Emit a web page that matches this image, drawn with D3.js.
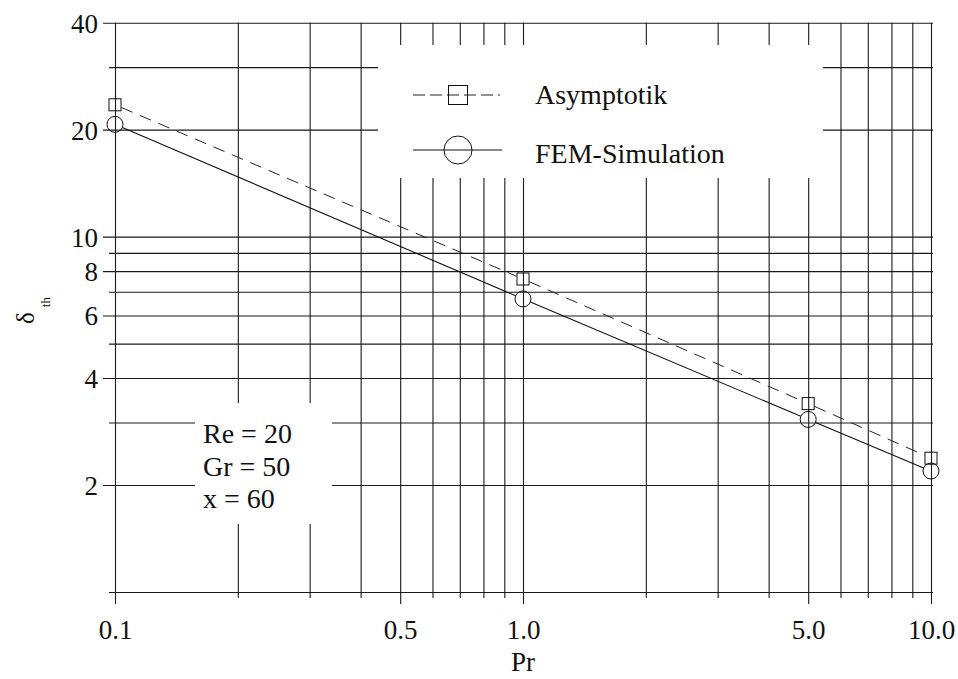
<!DOCTYPE html>
<html>
<head>
<meta charset="utf-8">
<script src="https://cdn.jsdelivr.net/npm/d3@7"></script>
<style>
  html, body { margin: 0; padding: 0; background: #fff; }
  svg { display: block; }
  text { font-family: "Liberation Serif", "Times New Roman", serif; fill: #111; }
</style>
</head>
<body>
<svg id="chart" width="958" height="679"></svg>
<script>
// ---- data ----
const prValues = [0.1, 1.0, 5.0, 10.0];
const asymptotik = [23.5, 7.6, 3.39, 2.38];
const femSimulation = [20.7, 6.68, 3.06, 2.19];
const seriesNames = ["Asymptotik", "FEM-Simulation"];

const xMajorTicks = [0.1, 0.5, 1, 5, 10];
const xMajorLabels = ["0.1", "0.5", "1.0", "5.0", "10.0"];
const xMinorTicks = [0.2, 0.3, 0.4, 0.6, 0.7, 0.8, 0.9, 2, 3, 4, 6, 7, 8, 9];
const yMajorTicks = [2, 4, 6, 8, 10, 20, 40];
const yMajorLabels = ["2", "4", "6", "8", "10", "20", "40"];
const yMinorTicks = [1, 3, 5, 7, 9, 30];
const annotationLines = ["Re = 20", "Gr = 50", "x = 60"];

(function () {
// ---- layout ----
const svg = d3.select("#chart");
const pL = 115, pR = 931, pT = 22.7, pB = 592;
const x = d3.scaleLog().domain([0.1, 10]).range([pL, pR]);
const y = d3.scaleLog().domain([1, 40]).range([pB, pT]);
const gridColor = "#1a1a1a";

// ---- grid via axes ----
function styleGrid(g) {
  g.select(".domain").remove();
  g.selectAll(".tick line").attr("stroke", gridColor).attr("stroke-width", 1.1);
}
// minor vertical
svg.append("g").attr("transform", `translate(0,${pB + 6})`)
  .call(d3.axisBottom(x).tickValues(xMinorTicks).tickSize(-(pB + 6 - pT)).tickFormat(""))
  .call(styleGrid);
// major vertical with labels
svg.append("g").attr("transform", `translate(0,${pB + 12})`)
  .call(d3.axisBottom(x).tickValues(xMajorTicks).tickSize(-(pB + 12 - pT))
    .tickFormat((d, i) => xMajorLabels[i]))
  .call(styleGrid)
  .call(g => g.selectAll(".tick text")
    .attr("y", 639 - (pB + 12)).attr("dy", 0)
    .attr("font-size", 27).attr("font-family", "Liberation Serif").attr("fill", "#111"));
// minor horizontal
svg.append("g").attr("transform", `translate(${pL - 6},0)`)
  .call(d3.axisLeft(y).tickValues(yMinorTicks).tickSize(-(pR - pL + 8)).tickFormat(""))
  .call(styleGrid);
// major horizontal with labels
svg.append("g").attr("transform", `translate(${pL - 12},0)`)
  .call(d3.axisLeft(y).tickValues(yMajorTicks).tickSize(-(pR - pL + 14))
    .tickFormat((d, i) => yMajorLabels[i]))
  .call(styleGrid)
  .call(g => g.selectAll(".tick text")
    .attr("x", -5).attr("dy", "0.35em")
    .attr("font-size", 27).attr("font-family", "Liberation Serif").attr("fill", "#111"));

// ---- boxes that interrupt the grid ----
svg.append("rect").attr("x", 378).attr("y", 45).attr("width", 823 - 378).attr("height", 178 - 45).attr("fill", "#fff");
svg.append("rect").attr("x", 195).attr("y", 403).attr("width", 332 - 195).attr("height", 524 - 403).attr("fill", "#fff");

// ---- data lines (trimmed at marker edges) ----
function trimmedSegments(vals, r) {
  const pts = prValues.map((p, i) => [x(p), y(vals[i])]);
  const segs = [];
  for (let i = 0; i < pts.length - 1; i++) {
    const [x1, y1] = pts[i], [x2, y2] = pts[i + 1];
    const len = Math.hypot(x2 - x1, y2 - y1);
    const ux = (x2 - x1) / len, uy = (y2 - y1) / len;
    segs.push([x1 + ux * r, y1 + uy * r, x2 - ux * r, y2 - uy * r]);
  }
  return segs;
}
const lineG = svg.append("g");
lineG.append("g").selectAll("line").data(trimmedSegments(asymptotik, 7)).join("line")
  .attr("x1", d => d[0]).attr("y1", d => d[1]).attr("x2", d => d[2]).attr("y2", d => d[3])
  .attr("stroke", "#222").attr("stroke-width", 1).attr("stroke-dasharray", "12,8");
lineG.append("g").selectAll("line").data(trimmedSegments(femSimulation, 8)).join("line")
  .attr("x1", d => d[0]).attr("y1", d => d[1]).attr("x2", d => d[2]).attr("y2", d => d[3])
  .attr("stroke", "#111").attr("stroke-width", 1.1);

// markers
svg.append("g").selectAll("rect").data(prValues).join("rect")
  .attr("x", (d) => x(d) - 6).attr("y", (d, i) => y(asymptotik[i]) - 6)
  .attr("width", 12).attr("height", 12)
  .attr("fill", "none").attr("stroke", "#111").attr("stroke-width", 1);
svg.append("g").selectAll("circle").data(prValues).join("circle")
  .attr("cx", d => x(d)).attr("cy", (d, i) => y(femSimulation[i])).attr("r", 8)
  .attr("fill", "none").attr("stroke", "#111").attr("stroke-width", 1);

// ---- legend ----
const leg = svg.append("g");
leg.append("line").attr("x1", 413).attr("x2", 500).attr("y1", 95).attr("y2", 95)
  .attr("stroke", "#222").attr("stroke-width", 1).attr("stroke-dasharray", "12,5");
leg.append("rect").attr("x", 448.5).attr("y", 85.5).attr("width", 19).attr("height", 19)
  .attr("fill", "none").attr("stroke", "#111").attr("stroke-width", 1);
leg.append("line").attr("x1", 413).attr("x2", 502).attr("y1", 150).attr("y2", 150)
  .attr("stroke", "#111").attr("stroke-width", 1.1);
leg.append("circle").attr("cx", 458).attr("cy", 150).attr("r", 14)
  .attr("fill", "none").attr("stroke", "#111").attr("stroke-width", 1);
leg.append("text").attr("x", 535).attr("y", 104).attr("font-size", 28).text(seriesNames[0]);
leg.append("text").attr("x", 535).attr("y", 163).attr("font-size", 28).text(seriesNames[1]);

// ---- annotation ----
svg.append("g").selectAll("text").data(annotationLines).join("text")
  .attr("x", 203).attr("y", (d, i) => 443 + i * 32.5).attr("font-size", 28).text(d => d);

// ---- axis titles ----
svg.append("text").attr("x", 523).attr("y", 671).attr("text-anchor", "middle")
  .attr("font-size", 27).text("Pr");
const yl = svg.append("text").attr("transform", "translate(34,324) rotate(-90)")
  .attr("font-size", 25);
yl.append("tspan").text("δ");
yl.append("tspan").attr("dx", 5).attr("dy", 16).attr("font-size", 13).text("th");
})();
</script>
</body>
</html>
